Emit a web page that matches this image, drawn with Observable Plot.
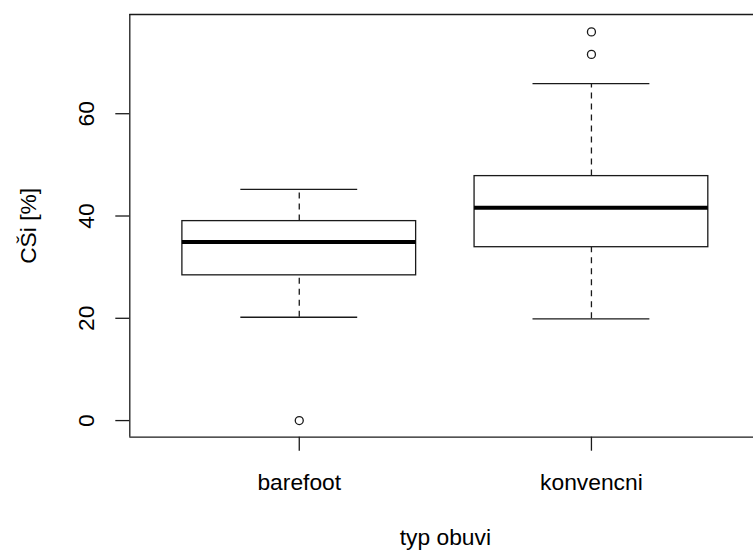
<!DOCTYPE html>
<html>
<head>
<meta charset="utf-8">
<script src="https://cdn.jsdelivr.net/npm/d3@7"></script>
<script src="https://cdn.jsdelivr.net/npm/@observablehq/plot@0.6"></script>
<style>
  html, body { margin: 0; padding: 0; background: #fff; }
  #chart svg { display: block; }
</style>
</head>
<body>
<div id="chart"></div>
<script>
// ---- data ----
const categories   = ["barefoot", "konvencni"];
const lowerWhisker = [20.2, 19.9];
const q1           = [28.4, 33.9];
const median       = [34.9, 41.6];
const q3           = [39.0, 47.8];
const upperWhisker = [45.2, 65.9];
const outlierGroup = ["barefoot", "konvencni", "konvencni"];
const outlierValue = [0, 71.6, 76.0];
const yTicks       = [0, 20, 40, 60];
const xLabel = "typ obuvi";
const yLabel = "CŠi [%]";

// ---- derived tables ----
const boxes = categories.map((c, i) => ({
  pos: i + 1, lo: lowerWhisker[i], q1: q1[i], med: median[i], q3: q3[i], hi: upperWhisker[i]
}));
const outliers = outlierGroup.map((g, i) => ({pos: categories.indexOf(g) + 1, value: outlierValue[i]}));

const boxHalf = 0.4;     // R boxwex 0.8
const capHalf = 0.2;     // staplewex 0.5
const xDomain = [0.42, categories.length + 0.58];
const yDomain = [-3.25, 79.4];
const ink = "#1a1a1a";
const lw = 1.3;
const fs = 22.8;
const font = "'Liberation Sans', Arial, Helvetica, sans-serif";

const chart = Plot.plot({
  width: 753,
  height: 550,
  marginLeft: 129.3,
  marginRight: 0,
  marginTop: 14,
  marginBottom: 113.3,
  style: {fontFamily: font, fontSize: fs + "px", color: "#000", background: "#fff"},
  x: {domain: xDomain, range: [129.3, 760.4], axis: null},
  y: {domain: yDomain, axis: null},
  marks: [
    // frame (left, top, bottom; right edge lies outside the picture)
    Plot.ruleX([xDomain[0]], {stroke: ink, strokeWidth: lw}),
    Plot.ruleY([yDomain[0], yDomain[1]], {stroke: ink, strokeWidth: lw}),
    // axes
    Plot.axisY(yTicks, {tickSize: 14, tickFormat: () => "", stroke: ink, strokeWidth: lw, label: null}),
    Plot.text(yTicks, {y: d => d, frameAnchor: "left", dx: -42.6, rotate: -90,
      text: d => String(d), textAnchor: "middle", lineAnchor: "middle", fontSize: fs, fill: "#000"}),
    Plot.axisX(categories.map((c, i) => i + 1), {tickSize: 14, tickPadding: 22.4, stroke: ink, strokeWidth: lw,
      tickFormat: d => categories[d - 1], fontSize: fs, fill: "#000", label: null}),
    // axis titles
    Plot.text([xLabel], {x: () => (xDomain[0] + xDomain[1]) / 2, frameAnchor: "bottom", dy: 101,
      text: d => d, textAnchor: "middle", lineAnchor: "middle", fontSize: fs, fill: "#000"}),
    Plot.text([yLabel], {frameAnchor: "left", dx: -101.3, rotate: -90,
      text: d => d, textAnchor: "middle", lineAnchor: "middle", fontSize: fs, fill: "#000"}),
    // whiskers (dashed)
    Plot.ruleX(boxes, {x: "pos", y1: "q3", y2: "hi", stroke: ink, strokeWidth: lw, strokeDasharray: "6,5"}),
    Plot.ruleX(boxes, {x: "pos", y1: "lo", y2: "q1", stroke: ink, strokeWidth: lw, strokeDasharray: "6,5"}),
    // caps
    Plot.ruleY(boxes, {y: "hi", x1: d => d.pos - capHalf, x2: d => d.pos + capHalf, stroke: ink, strokeWidth: lw}),
    Plot.ruleY(boxes, {y: "lo", x1: d => d.pos - capHalf, x2: d => d.pos + capHalf, stroke: ink, strokeWidth: lw}),
    // boxes
    Plot.rect(boxes, {x1: d => d.pos - boxHalf, x2: d => d.pos + boxHalf, y1: "q1", y2: "q3",
      fill: "#fff", stroke: ink, strokeWidth: lw}),
    // medians
    Plot.ruleY(boxes, {y: "med", x1: d => d.pos - boxHalf, x2: d => d.pos + boxHalf, stroke: "#000", strokeWidth: 4}),
    // outliers
    Plot.dot(outliers, {x: "pos", y: "value", r: 4, stroke: ink, strokeWidth: lw, fill: "none"})
  ]
});
document.getElementById("chart").appendChild(chart);
</script>
</body>
</html>
